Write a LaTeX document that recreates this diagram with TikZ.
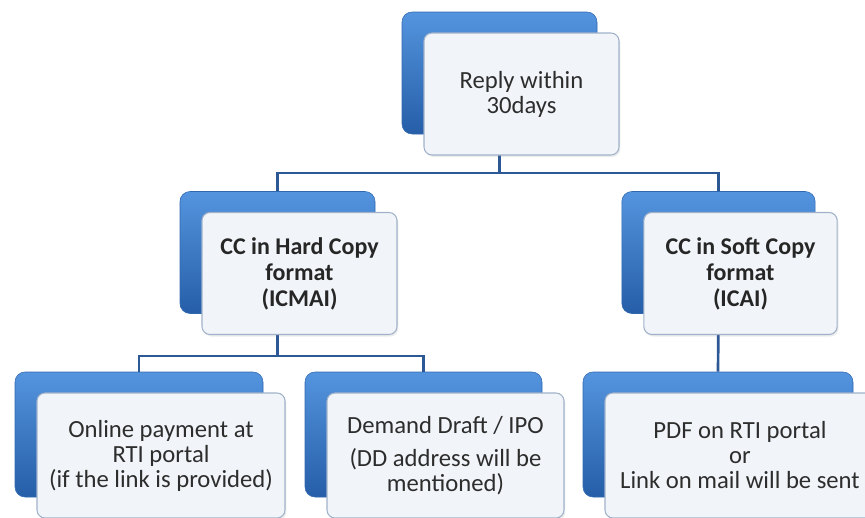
\documentclass[tikz,border=0pt]{standalone}
\usepackage{fontspec}
\setmainfont{Carlito}
\usetikzlibrary{positioning, shadows}

\definecolor{boxtop}{RGB}{84,148,222}
\definecolor{boxbottom}{RGB}{38,94,168}
\definecolor{boxedge}{RGB}{48,104,176}
\definecolor{cardfill}{RGB}{241,244,248}
\definecolor{cardedge}{RGB}{160,178,202}
\definecolor{linkcol}{RGB}{44,88,150}
\definecolor{textcol}{RGB}{45,45,45}

\begin{document}
\begin{tikzpicture}[
  x=0.75pt, y=-0.75pt,
  back/.style={draw=boxedge, rounded corners=7.5pt, top color=boxtop, bottom color=boxbottom,
    minimum height=91.5pt, inner sep=0pt},
  card/.style={draw=cardedge, line width=0.8pt, rounded corners=6pt, fill=cardfill,
    minimum height=91.5pt, inner sep=0pt, align=center, text=textcol,
    font=\fontsize{18.5}{18.75}\selectfont, xshift=16.5pt, yshift=-15.75pt,
    drop shadow={shadow xshift=1pt, shadow yshift=-1.5pt, opacity=0.15}},
  head/.style={card, text=black!85, font=\bfseries\fontsize{18}{19.5}\selectfont},
  link/.style={draw=linkcol, line width=2pt}
]
\useasboundingbox (0,0) rectangle (865,518);

% Back boxes
\node[back, minimum width=146.25pt] (replyback) at (499.5,73) {};
\node[back, minimum width=146.25pt] (hardback) at (277.5,252.5) {};
\node[back, minimum width=145pt] (softback) at (718.5,252.5) {};
\node[back, minimum width=186pt, minimum height=93.75pt] (onlineback) at (139,434.5) {};
\node[back, minimum width=177.75pt, minimum height=93.75pt] (ddback) at (423.5,434.5) {};
\node[back, minimum width=202.5pt, minimum height=93.75pt] (pdfback) at (718,434.5) {};

% Connectors
\coordinate (split1) at (499.5,173);
\coordinate (split2) at (277.5,356);
\draw[link] (replyback.south) -- (split1) -| (hardback.north);
\draw[link] (split1) -| (softback.north);
\draw[link] (hardback.south) -- (split2) -| (onlineback.north);
\draw[link] (split2) -| (ddback.north);
\draw[link] (softback.south) -- (pdfback.north);

% Front cards
\node[card, minimum width=146.25pt] (reply) at (replyback) {Reply within\\30days};
\node[head, minimum width=146.25pt] (hard) at (hardback) {CC in Hard Copy\\format\\(ICMAI)};
\node[head, minimum width=145pt] (soft) at (softback) {CC in Soft Copy\\format\\(ICAI)};
\node[card, minimum width=186pt, minimum height=93.75pt] (online) at (onlineback)
  {Online payment at\\RTI portal\\(if the link is provided)};
\node[card, minimum width=177.75pt, minimum height=93.75pt] (dd) at (ddback)
  {Demand Draft / IPO\\[6pt](DD address will be\\mentioned)};
\node[card, minimum width=202.5pt, minimum height=93.75pt] (pdf) at (pdfback)
  {PDF on RTI portal\\or\\Link on mail will be sent};
\end{tikzpicture}
\end{document}
